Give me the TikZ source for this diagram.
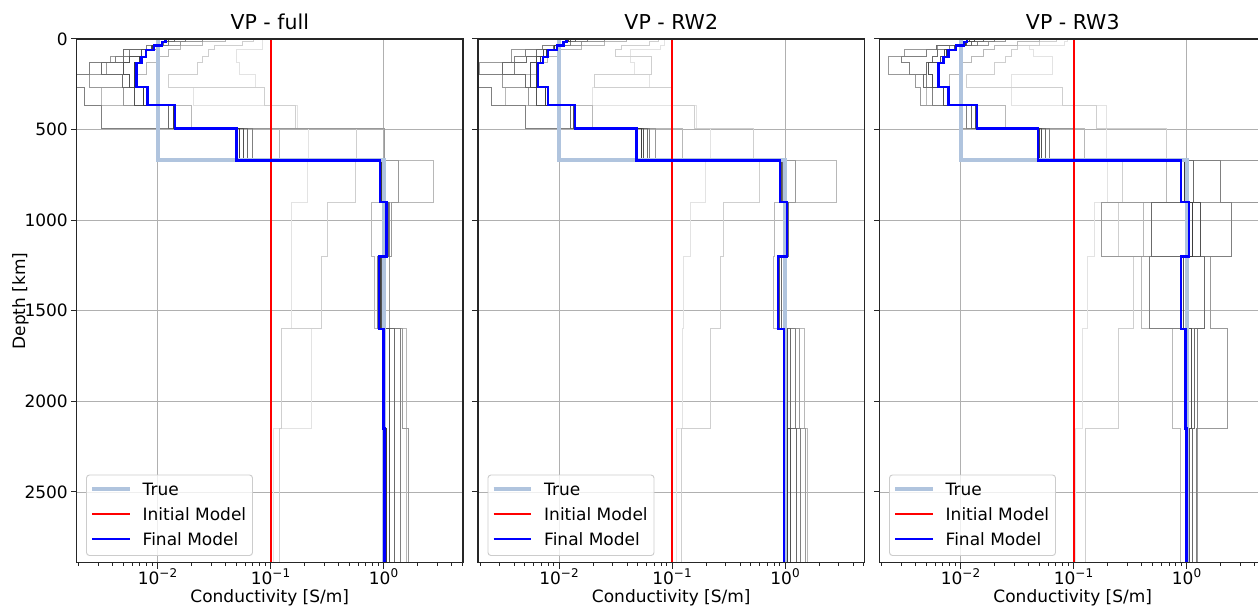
\documentclass[tikz,border=0pt]{standalone}
\usepackage{fontspec}
\setmainfont{DejaVu Sans}
\definecolor{truec}{HTML}{B0C4DE}
\definecolor{gridc}{HTML}{B0B0B0}
\definecolor{legc}{HTML}{CCCCCC}
\def\Bnd{{0,16,35,60,98,131,195,265,365,495,670,900,1200,1600,2150}}
\def\Bnb{{16,35,60,98,131,195,265,365,495,670,900,1200,1600,2150,2890}}
\def\xl{-2.7168}
\def\xr{0.7035}
\def\stairs#1#2{\stairsA{#1}#2\relax}
\def\stairsA#1#2,#3\relax{\draw[#1] (#2,0) foreach \vv [count=\ii from 0] in {#2,#3} { -- (\vv,{\Bnd[\ii]}) -- (\vv,{\Bnb[\ii]}) };}
\newcommand\panel[4]{%
\begin{scope}[shift={(#1+307,39)},x=113pt,y=-0.1812pt]
 \foreach \d in {500,1000,1500,2000,2500} \draw[gridline] (\xl,\d) -- (\xr,\d);
 \foreach \e in {-2,-1,0} \draw[gridline] (\e,0) -- (\e,2890);
 \begin{scope}
  \clip (\xl,0) rectangle (\xr,2890);
  #4
 \end{scope}
 \draw[spine] (\xl,0) rectangle (\xr,2890);
 \foreach \e in {-2,-1,0} \draw[tickl] (\e,2890) -- ++(0pt,-6pt);
 \foreach \e in {-2.699,-2.523,-2.398,-2.301,-2.222,-2.155,-2.097,-2.046,-1.699,-1.523,-1.398,-1.301,-1.222,-1.155,-1.097,-1.046,-0.699,-0.523,-0.398,-0.301,-0.222,-0.155,-0.097,-0.046,0.301,0.477,0.602,0.699}
   \draw[tickl] (\e,2890) -- ++(0pt,-3.5pt);
 \foreach \d in {0,500,1000,1500,2000,2500} \draw[tickl] (\xl,\d) -- ++(-6pt,0pt);
 \foreach \e/\lab [count=\k] in {-2/−2,-1/−1,0/0}
   \path (\e,2890) ++(0pt,-22pt) node[ticklab,anchor=base] (x#3\k) {10\raisebox{7pt}{\fontsize{12}{12}\selectfont\lab}};
 \path ({(\xl+\xr)/2},0) ++(0pt,9.5pt) node[titlef,anchor=base] (t#3) {VP - #2};
 \path ({(\xl+\xr)/2},2890) ++(0pt,-40pt) node[ticklab,anchor=base] (c#3) {Conductivity [S/m]};
\end{scope}
\draw[legbox] (#1+10,475) rectangle (#1+176,555.5);
\coordinate (h#3a) at (#1+15.5,488.5); \coordinate (h#3b) at (#1+53,488.5);
\coordinate (h#3c) at (#1+15.5,514); \coordinate (h#3d) at (#1+53,514);
\coordinate (h#3e) at (#1+15.5,538.7); \coordinate (h#3f) at (#1+53,538.7);
\draw[truel] (h#3a) -- (h#3b);
\draw[initl] (h#3c) -- (h#3d);
\draw[finall] (h#3e) -- (h#3f);
\node[ticklab,anchor=base west,inner sep=0pt] (l#3a) at (#1+66,495) {True};
\node[ticklab,anchor=base west,inner sep=0pt] (l#3b) at (#1+66,520.7) {Initial Model};
\node[ticklab,anchor=base west,inner sep=0pt] (l#3c) at (#1+66,545.7) {Final Model};
}
\begin{document}
\begin{tikzpicture}[x=1pt,y=-1pt,
  gridline/.style={draw=gridc,line width=0.9pt},
  spine/.style={draw=black!85,line width=1.1pt},
  tickl/.style={draw=black!85,line width=1pt},
  ticklab/.style={font=\fontsize{17}{20}\selectfont,inner sep=0pt},
  titlef/.style={font=\fontsize{20.5}{24}\selectfont,inner sep=0pt},
  truel/.style={draw=truec,line width=4pt},
  initl/.style={draw=red,line width=2pt},
  finall/.style={draw=blue,line width=2.4pt},
  legbox/.style={draw=legc,line width=0.9pt,fill=white,fill opacity=0.8,rounded corners=3pt},
  g1/.style={draw=black!11,line width=1pt},
  g2/.style={draw=black!19,line width=1pt},
  g3/.style={draw=black!28,line width=1pt},
  g4/.style={draw=black!40,line width=1pt},
  g5/.style={draw=black!50,line width=1pt},
  g6/.style={draw=black!58,line width=1pt},
  g7/.style={draw=black!68,line width=1pt},
  g8/.style={draw=black!76,line width=1pt}]
\useasboundingbox (0,0) rectangle (1258,609);
\fill[white] (0,0) rectangle (1258,609);
\clip (0,0) rectangle (1258,609);
\panel{76.5}{full}{a}{%
 \stairs{g1}{-1.07,-1.07,-1.07,-1.30,-1.30,-1.27,-1.13,-1.68,-0.76,-0.66,-0.675,-0.81,-0.81,-0.64,-0.97}
 \stairs{g2}{-1.15,-1.25,-1.5,-1.55,-1.6,-1.65,-1.9,-1.05,-0.78,-0.24,-0.25,-0.5,-0.55,-0.9,-0.92}
 \stairs{g3}{-1.4,-1.6,-1.8,-1.9,-2.0,-2.1,-2.2,-2.5,-1.7,-0.92,0.44,-0.11,-0.08,0.2,0.2}
 \stairs{g4}{-1.6,-1.8,-2.0,-2.3,-2.42,-2.45,-2.6,-2.3,-2.0,0.01,0.13,0.07,0.05,0.17,0.22}
 \stairs{g5}{-1.75,-1.9,-2.1,-2.25,-2.37,-2.6,-2.8,-2.65,-2.5,-1.16,0.02,0.05,-0.05,0.15,0.15}
 \stairs{g6}{-1.85,-1.95,-2.05,-2.3,-2.3,-2.5,-2.31,-2.1,-1.9,-1.2,-0.01,0.04,-0.03,0.1,0.1}
 \stairs{g7}{-1.9,-1.96,-2.05,-2.14,-2.245,-2.3,-2.25,-2.2,-1.85,-1.24,0.0,0.03,-0.02,0.05,0.05}
 \stairs{g8}{-1.92,-1.96,-2.04,-2.11,-2.16,-2.2,-2.2,-2.12,-1.86,-1.27,-0.02,0.03,-0.03,0.02,0.03}
 \draw[truel] (-2,0) -- (-2,670) -- (0,670) -- (0,2890);
 \draw[initl] (-1,0) -- (-1,2890);
 \stairs{finall}{-1.93,-1.96,-2.03,-2.10,-2.14,-2.186,-2.186,-2.09,-1.847,-1.30,-0.03,0.027,-0.04,0.0,0.01}
}
\panel{478}{RW2}{b}{%
 \stairs{g1}{-1.07,-1.07,-1.1,-1.37,-1.37,-1.33,-1.2,-1.7,-0.78,-0.66,-0.70,-0.84,-0.90,-0.91,-0.96}
 \stairs{g2}{-1.12,-1.2,-1.45,-1.5,-1.18,-1.18,-1.685,-1.0,-0.8,-0.28,-0.23,-0.54,-0.57,-0.66,-0.92}
 \stairs{g3}{-1.4,-1.6,-1.8,-2.0,-2.1,-2.2,-2.3,-2.47,-1.7,-0.91,0.46,-0.09,-0.1,0.17,0.2}
 \stairs{g4}{-1.6,-1.8,-2.0,-2.42,-2.42,-2.7,-2.5,-2.27,-2.0,-1.15,0.095,0.03,-0.05,0.13,0.18}
 \stairs{g5}{-1.75,-1.9,-2.15,-2.3,-2.39,-2.39,-2.8,-2.6,-2.3,-1.2,0.0,0.03,-0.03,0.09,0.14}
 \stairs{g6}{-1.85,-1.95,-2.05,-2.2,-2.29,-2.5,-2.3,-2.1,-1.9,-1.22,-0.02,0.03,-0.03,0.05,0.1}
 \stairs{g7}{-1.9,-1.96,-2.04,-2.14,-2.2,-2.25,-2.25,-2.2,-1.87,-1.25,-0.03,0.02,-0.05,0.02,0.05}
 \stairs{g8}{-1.92,-1.96,-2.04,-2.11,-2.16,-2.2,-2.2,-2.12,-1.86,-1.27,-0.04,0.02,-0.06,0.0,0.02}
 \draw[truel] (-2,0) -- (-2,670) -- (0,670) -- (0,2890);
 \draw[initl] (-1,0) -- (-1,2890);
 \stairs{finall}{-1.935,-1.96,-2.02,-2.097,-2.14,-2.186,-2.186,-2.097,-1.861,-1.316,-0.044,0.02,-0.06,-0.01,-0.01}
}
\panel{879.5}{RW3}{c}{%
 \stairs{g1}{-1.05,-1.08,-1.39,-1.35,-1.19,-1.19,-1.55,-1.55,-0.71,-0.71,-0.70,-0.81,-0.88,-0.92,-0.98}
 \stairs{g2}{-1.15,-1.3,-1.5,-1.55,-1.6,-1.7,-1.95,-1.1,-0.8,-0.18,-0.57,-0.6,-0.47,-0.6,-0.89}
 \stairs{g3}{-1.3,-1.5,-1.7,-1.8,-1.9,-2.0,-2.1,-2.3,-1.6,-0.9,-0.18,-0.38,-0.40,-0.12,-0.05}
 \stairs{g4}{-1.6,-1.75,-2.2,-2.5,-2.64,-2.64,-2.4,-2.35,-2.0,-1.0,0.67,-0.75,0.21,0.36,0.1}
 \stairs{g5}{-1.7,-1.85,-2.1,-2.3,-2.52,-2.45,-2.3,-2.25,-1.95,-1.21,0.30,0.40,-0.33,0.1,0.09}
 \stairs{g6}{-1.8,-1.9,-2.21,-2.2,-2.25,-2.3,-2.33,-2.15,-1.9,-1.25,0.065,-0.31,0.16,0.07,0.05}
 \stairs{g7}{-1.88,-1.95,-2.05,-2.14,-2.18,-2.28,-2.25,-2.15,-1.87,-1.28,0.0,0.12,-0.03,0.04,0.03}
 \stairs{g8}{-1.92,-1.96,-2.04,-2.12,-2.16,-2.2,-2.2,-2.1,-1.86,-1.3,-0.02,0.05,-0.04,0.02,0.02}
 \draw[truel] (-2,0) -- (-2,670) -- (0,670) -- (0,2890);
 \draw[initl] (-1,0) -- (-1,2890);
 \stairs{finall}{-1.944,-1.97,-2.04,-2.106,-2.15,-2.195,-2.195,-2.106,-1.855,-1.316,-0.047,0.02,-0.047,-0.01,0.0}
}
\foreach \d [count=\k] in {0,500,1000,1500,2000,2500}
  \node[ticklab,anchor=base east] (yl\k) at (68,{39+0.1812*\d+6.2}) {\d};
\node[ticklab,rotate=90,anchor=base] (ylab) at (25,301) {Depth [km]};
\end{tikzpicture}
\end{document}
